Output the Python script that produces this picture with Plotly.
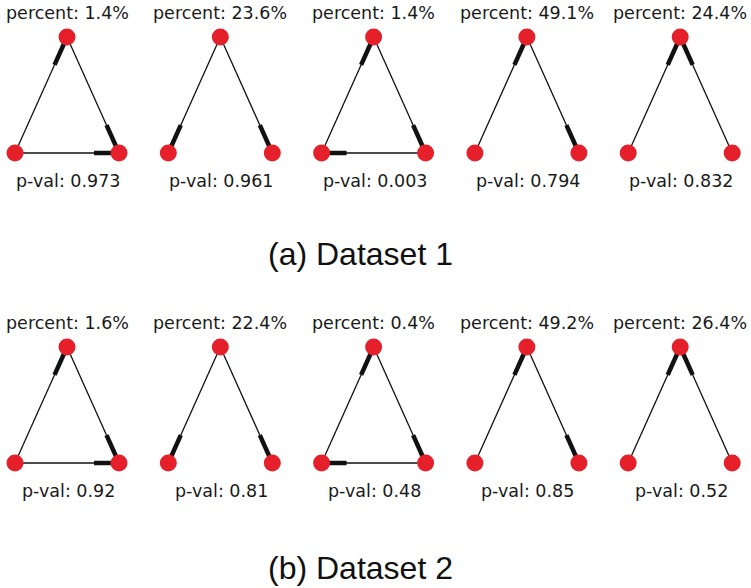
import plotly.graph_objects as go

# ---- data ----
dataset_titles = ["(a) Dataset 1", "(b) Dataset 2"]
percent_a = [1.4, 23.6, 1.4, 49.1, 24.4]
pval_a = ["0.973", "0.961", "0.003", "0.794", "0.832"]
percent_b = [1.6, 22.4, 0.4, 49.2, 26.4]
pval_b = ["0.92", "0.81", "0.48", "0.85", "0.52"]
# motif edges (source, target); nodes: 0 = top, 1 = bottom-left, 2 = bottom-right
motif_edges = [
    [(1, 0), (0, 2), (1, 2)],
    [(0, 1), (0, 2)],
    [(1, 0), (0, 2), (2, 1)],
    [(1, 0), (0, 2)],
    [(1, 0), (2, 0)],
]

# ---- layout constants (pixels) ----
W, H = 751, 588
x0, dx = 67.0, 153.3
half_w, tri_h = 52.0, 116.0
row_top = [37.0, 347.0]
pct_dy, pval_dy = -24.0, 144.0
title_y = [254.0, 568.0]
head_frac = 0.24
node_color = "#e5202a"

fig = go.Figure()
percents = [percent_a, percent_b]
pvals = [pval_a, pval_b]

for r in range(2):
    ty = row_top[r]
    for i, edges in enumerate(motif_edges):
        cx = x0 + dx * i
        nodes = [(cx, ty), (cx - half_w, ty + tri_h), (cx + half_w, ty + tri_h)]
        for (s, t) in edges:
            (xs, ys), (xt, yt) = nodes[s], nodes[t]
            fig.add_trace(go.Scatter(x=[xs, xt], y=[ys, yt], mode="lines",
                                     line=dict(color="#111111", width=1.3),
                                     hoverinfo="skip", showlegend=False))
            hx = xt + (xs - xt) * head_frac
            hy = yt + (ys - yt) * head_frac
            fig.add_trace(go.Scatter(x=[hx, xt], y=[hy, yt], mode="lines",
                                     line=dict(color="#111111", width=4.5),
                                     hoverinfo="skip", showlegend=False))
        fig.add_trace(go.Scatter(x=[p[0] for p in nodes], y=[p[1] for p in nodes],
                                 mode="markers",
                                 marker=dict(size=17, color=node_color, line=dict(width=0)),
                                 hoverinfo="skip", showlegend=False))
        fig.add_annotation(x=cx, y=ty + pct_dy, text=f"percent: {percents[r][i]}%",
                           showarrow=False, xref="x", yref="y",
                           font=dict(family="DejaVu Sans", size=17.5, color="#1a1a1a"))
        fig.add_annotation(x=cx + 1, y=ty + pval_dy, text=f"p-val: {pvals[r][i]}",
                           showarrow=False, xref="x", yref="y",
                           font=dict(family="DejaVu Sans", size=17.5, color="#1a1a1a"))
    fig.add_annotation(x=360, y=title_y[r], text=dataset_titles[r], showarrow=False,
                       xref="x", yref="y",
                       font=dict(family="Liberation Sans, Arial", size=32, color="#111111"))

fig.update_layout(width=W, height=H, margin=dict(l=0, r=0, t=0, b=0),
                  paper_bgcolor="white", plot_bgcolor="white")
fig.update_xaxes(range=[0, W], visible=False, fixedrange=True)
fig.update_yaxes(range=[H, 0], visible=False, fixedrange=True)
fig.write_html("out.html", config={"displayModeBar": False},
               post_script="document.body.style.margin='0px';document.body.style.overflow='hidden';")
